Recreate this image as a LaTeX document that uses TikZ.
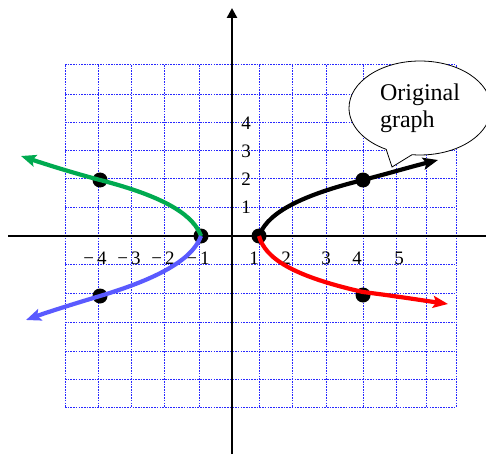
\documentclass[tikz,border=0pt]{standalone}
\usepackage{fontspec}
\setmainfont{Liberation Serif}
\usetikzlibrary{arrows.meta,shapes.callouts}
\definecolor{gridblue}{RGB}{40,40,255}
\definecolor{curvegreen}{RGB}{0,170,80}
\definecolor{curveblue}{RGB}{90,90,255}
\tikzset{
  gridline/.style={gridblue, line width=1pt, dash pattern=on 1.6pt off 1.1pt},
  axisline/.style={black, line width=2.8pt},
  curve/.style={line width=4.2pt, -{Stealth[length=15pt,width=12pt,inset=3pt]}},
  dot/.style={circle, fill=black, minimum size=15pt, inner sep=0pt},
  ticklab/.style={font=\fontsize{19}{21}\selectfont, inner sep=0pt},
}
\begin{document}
\begin{tikzpicture}[x=1pt,y=-1pt]
\useasboundingbox (0,0) rectangle (486,454);
% grid
\foreach \gx in {65,98,131,164,199,259,292,326,363,396,426,456}
  \draw[gridline] (\gx,65) -- (\gx,407);
\foreach \gy in {65,95,123,151,179,207,264,293,322,351,379,407}
  \draw[gridline] (65,\gy) -- (456,\gy);
% axes
\coordinate (xl) at (8,236);
\coordinate (xr) at (486,236);
\coordinate (yb) at (232,454);
\coordinate (yt) at (232,8);
\draw[axisline] (xl) -- (xr);
\draw[axisline, -{Triangle[length=10pt,width=10pt]}] (yb) -- (yt);
% tick labels
\foreach \v/\yy in {4/123,3/151,2/179,1/207}
  \node[ticklab] (ly\v) at (246,\yy) {\v};
\node[ticklab] (lxm4) at (95,258) {−\,4};
\node[ticklab] (lxm3) at (129,258) {−\,3};
\node[ticklab] (lxm2) at (163,258) {−\,2};
\node[ticklab] (lxm1) at (198,258) {−\,1};
\node[ticklab] (lx1) at (254,258) {1};
\node[ticklab] (lx2) at (286,258) {2};
\node[ticklab] (lx3) at (326,258) {3};
\node[ticklab] (lx4) at (357,258) {4};
\node[ticklab] (lx5) at (399,258) {5};
% dots
\node[dot] (pR) at (259,236) {};
\node[dot] (pL) at (201,236) {};
\node[dot] (pB2) at (363,180) {};
\node[dot] (pR2) at (363,295) {};
\node[dot] (pG2) at (100,180) {};
\node[dot] (pU2) at (100,296) {};
\coordinate (tipB) at (438,160);
\coordinate (tipR) at (448,304);
\coordinate (tipG) at (21,156);
\coordinate (tipU) at (26,320);
% curves
\draw[curve, black] (pR.center) .. controls (266,217) and (290,198) .. (pB2.center)
   .. controls (390,173) and (410,167) .. (tipB);
\draw[curve, red] (pR.center) .. controls (265,258) and (292,276) .. ([yshift=3pt]pR2.center)
   .. controls (395,296) and (420,300) .. (tipR);
\draw[curve, curvegreen] (pL.center) .. controls (194,217) and (170,198) .. (pG2.center)
   .. controls (70,172) and (45,164) .. (tipG);
\draw[curve, curveblue] (pL.center) .. controls (194,255) and (170,275) .. (pU2.center)
   .. controls (70,305) and (45,313) .. (tipU);
% callout
\node[ellipse callout, draw, line width=0.8pt, fill=white, minimum width=142pt, minimum height=94pt,
      callout absolute pointer={(392,167)}, callout pointer arc=22, align=left,
      font=\fontsize{24}{27}\selectfont, inner sep=0pt] (callout) at (420,108) {Original\\graph};
\end{tikzpicture}
\end{document}
